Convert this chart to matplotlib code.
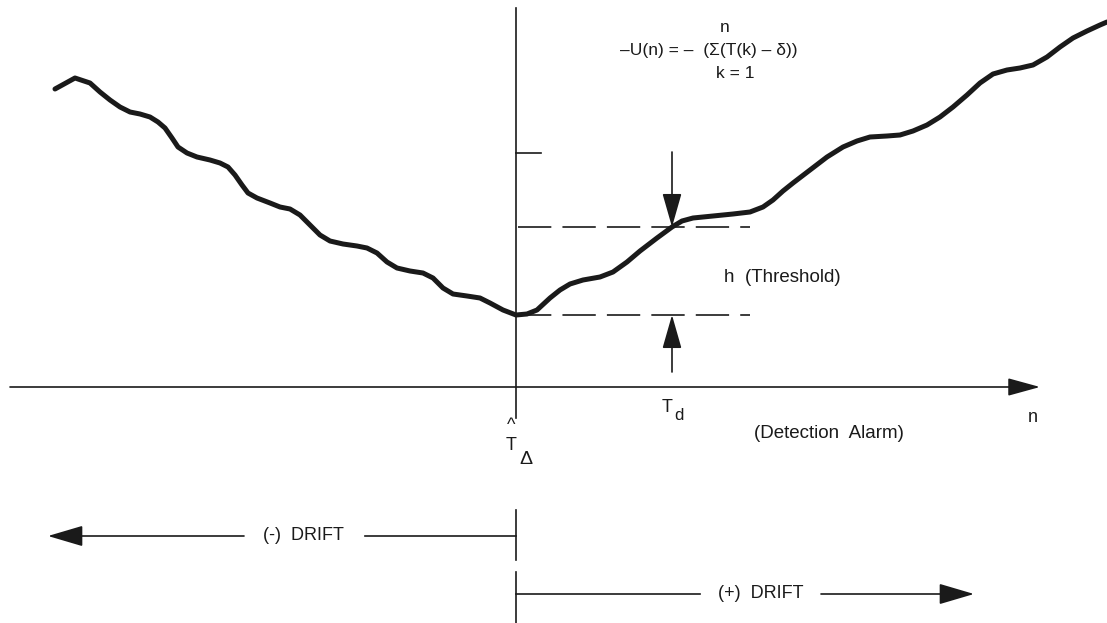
import matplotlib
matplotlib.use("Agg")
import matplotlib.pyplot as plt
from matplotlib.patches import ArrowStyle

plt.rcParams["font.family"] = ["Liberation Sans", "DejaVu Sans"]
plt.rcParams["lines.scale_dashes"] = False

# Cumulative sum statistic -U(n) against sample index n (origin at the change point)
n_vals = [-461, -441, -426, -416, -406, -396, -386, -376, -366, -358, -351, -344,
          -338, -329, -319, -306, -296, -288, -281, -274, -268, -259, -246, -236,
          -226, -216, -206, -196, -186, -173, -159, -149, -139, -129, -119, -106,
          -93, -83, -73, -63, -49, -36, -26, -13, 0,
          11, 21, 34, 44, 54, 67, 84, 97, 111, 124, 141, 156, 166, 177, 197, 217,
          234, 247, 257, 267, 277, 294, 311, 327, 341, 354, 371, 384, 397, 411,
          424, 437, 451, 464, 477, 491, 504, 517, 531, 544, 557, 571, 584, 591]
u_vals = [298, 309, 304, 295, 287, 280, 275, 273, 270, 265, 259, 249,
          240, 234, 230, 227, 224, 220, 212, 202, 194, 189, 184, 180,
          178, 172, 162, 152, 146, 143, 141, 139, 134, 125, 119, 116,
          114, 109, 99, 93, 91, 89, 84, 77, 72,
          73, 77, 89, 97, 103, 107, 110, 115, 125, 136, 149, 160, 166, 169, 171, 173,
          175, 180, 187, 196, 204, 217, 230, 240, 246, 250, 251, 252, 256, 262,
          270, 280, 292, 304, 313, 317, 319, 322, 330, 340, 349, 356, 362, 365]

# Reference levels
min_level = 72        # minimum of -U(n), at the estimated change point
alarm_level = 160     # min_level + h
tick_level = 234
t_detect = 156        # detection time T_d

fig = plt.figure(figsize=(11.07, 6.23), dpi=100)
ax = fig.add_axes([0, 0, 1, 1])
ax.set_xlim(-516, 591)
ax.set_ylim(-236, 387)
ax.axis("off")

ink = "#1a1a1a"
axis_lw = 1.2

def arrow(x0, y0, x1, y1, hl=19, hw=5.5, lw=axis_lw):
    style = ArrowStyle("-|>", head_length=hl, head_width=hw)
    ax.annotate("", xy=(x1, y1), xytext=(x0, y0),
                arrowprops=dict(arrowstyle=style, mutation_scale=1, lw=lw,
                                color=ink, shrinkA=0, shrinkB=0))

# Axes of the diagram
arrow(-506, 0, 524, 0, hl=20, hw=5.5)
ax.plot([0, 0], [379, -31], color=ink, lw=axis_lw)
ax.plot([0, 25], [tick_level, tick_level], color=ink, lw=axis_lw)

# Threshold band
for lvl in (alarm_level, min_level):
    ax.plot([2, 234], [lvl, lvl], color=ink, lw=axis_lw, dashes=(24, 8))

# Statistic
ax.plot(n_vals, u_vals, color=ink, lw=3.6, solid_capstyle="round",
        solid_joinstyle="round")

# Detection arrows
arrow(t_detect, 235, t_detect, alarm_level, hl=21, hw=6)
arrow(t_detect, 15, t_detect, min_level, hl=21, hw=6)

fs = 12.5
ax.text(209, 359, "n", fontsize=fs, ha="center", va="center", color=ink)
ax.text(104, 336, "\u2013U(n) = \u2013  (\u03a3(T(k) \u2013 \u03b4))", fontsize=fs,
        ha="left", va="center", color=ink)
ax.text(219, 313, "k = 1", fontsize=fs, ha="center", va="center", color=ink)
ax.text(208, 110, "h  (Threshold)", fontsize=13.5, ha="left", va="center", color=ink)

ax.text(151, -21, "T", fontsize=13, ha="center", va="center", color=ink)
ax.text(163, -28, "d", fontsize=12, ha="center", va="center", color=ink)
ax.text(238, -47, "(Detection  Alarm)", fontsize=13.5, ha="left", va="center", color=ink)
ax.text(517, -31, "n", fontsize=13, ha="center", va="center", color=ink)

# Estimated change time, T-hat with delta subscript
ax.text(-5, -39, "^", fontsize=13, ha="center", va="center", color=ink)
ax.text(-5, -59, "T", fontsize=13, ha="center", va="center", color=ink)
ax.text(10, -73, "\u0394", fontsize=14, ha="center", va="center", color=ink)

# Drift direction indicators
ax.plot([0, 0], [-123, -173], color=ink, lw=axis_lw)
ax.plot([0, 0], [-185, -236], color=ink, lw=axis_lw)
arrow(-272, -149, -468, -149, hl=22, hw=6.5)
ax.plot([-151, 0], [-149, -149], color=ink, lw=axis_lw)
ax.text(-213, -149, "(-)  DRIFT", fontsize=13, ha="center", va="center", color=ink)
ax.plot([0, 184], [-207, -207], color=ink, lw=axis_lw)
arrow(305, -207, 458, -207, hl=22, hw=6.5)
ax.text(245, -207, "(+)  DRIFT", fontsize=13, ha="center", va="center", color=ink)

fig.savefig("out.png", dpi=100)
